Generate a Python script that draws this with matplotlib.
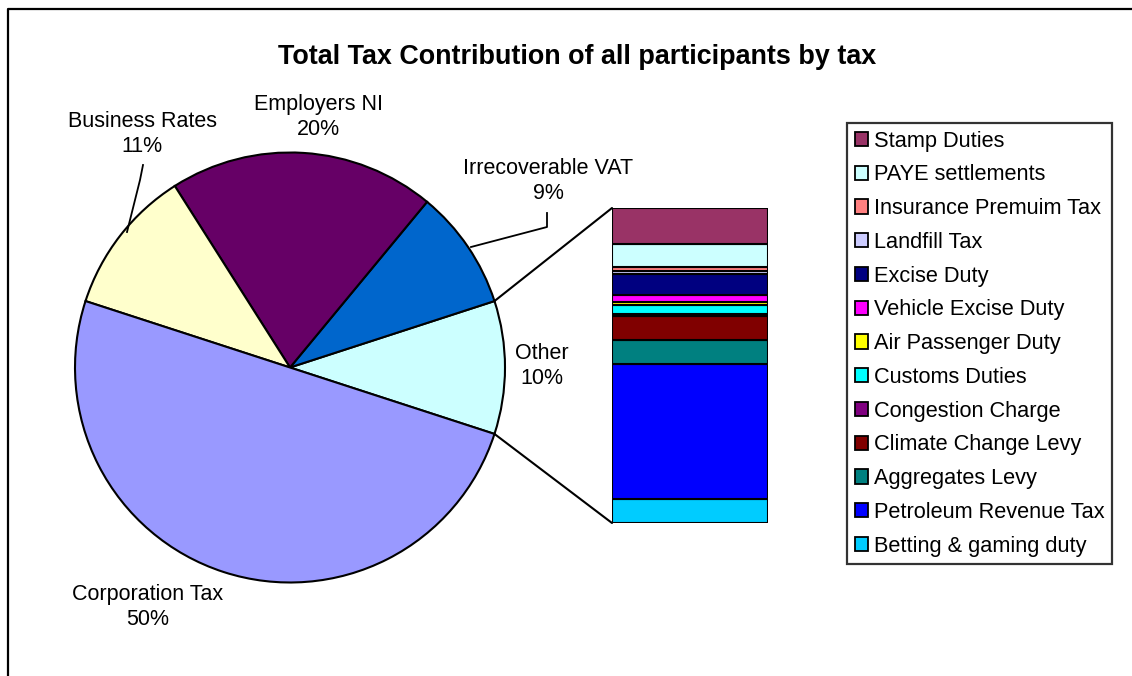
import numpy as np
import matplotlib
matplotlib.use('Agg')
import matplotlib.pyplot as plt
from matplotlib.patches import Patch, ConnectionPatch

plt.rcParams['font.family'] = ['Liberation Sans', 'DejaVu Sans']

# pie slices, counter-clockwise from the "Other" slice (% of total)
pie_labels = ['Other', 'Irrecoverable VAT', 'Employers NI', 'Business Rates', 'Corporation Tax']
pie_values = [10, 9, 20, 11, 50]
pie_colors = ['#CCFFFF', '#0066CC', '#660066', '#FFFFCC', '#9999FF']

# breakdown of "Other", bottom to top of the stacked bar (% of total)
other_labels = ['Betting & gaming duty', 'Petroleum Revenue Tax', 'Aggregates Levy',
                'Climate Change Levy', 'Congestion Charge', 'Customs Duties',
                'Air Passenger Duty', 'Vehicle Excise Duty', 'Excise Duty',
                'Landfill Tax', 'Insurance Premuim Tax', 'PAYE settlements', 'Stamp Duties']
other_values = [0.76, 4.30, 0.76, 0.76, 0.05, 0.29, 0.10, 0.21, 0.66, 0.10, 0.13, 0.75, 1.13]
other_colors = ['#00CCFF', '#0000FF', '#008080', '#800000', '#800080', '#00FFFF',
                '#FFFF00', '#FF00FF', '#000080', '#CCCCFF', '#FF8080', '#CCFFFF', '#993366']

W, H = 1132, 676
fig = plt.figure(figsize=(W / 100, H / 100), dpi=100)
ax = fig.add_axes([0, 0, 1, 1])


def py(y):
    # screen y (from top) to data y
    return H - y


# outer chart frame (top and left edges visible)
ax.plot([8, 8, W + 5], [py(H + 5), py(9), py(9)], color='black', lw=1.6, solid_capstyle='projecting')

cx, cy, R = 290, py(367.5), 215
wedges, _ = ax.pie(pie_values, colors=pie_colors, startangle=-18, counterclock=True,
                   center=(cx, cy), radius=R, frame=True,
                   wedgeprops=dict(edgecolor='black', linewidth=1.5))
ax.set_xlim(0, W)
ax.set_ylim(0, H)
ax.set_aspect('equal')
ax.axis('off')

ax.text(577, py(57), 'Total Tax Contribution of all participants by tax',
        ha='center', va='center', fontsize=19.4, fontweight='bold')

lab_fs = 15.5
label_pos = {
    'Employers NI': (318, 117),
    'Business Rates': (142, 134),
    'Irrecoverable VAT': (548, 181),
    'Other': (542, 366),
    'Corporation Tax': (148, 607),
}
for name, val in zip(pie_labels, pie_values):
    x, y = label_pos[name]
    ax.text(x, py(y), f'{name}\n{val}%', ha='center', va='center',
            fontsize=lab_fs, linespacing=1.2)

# leader lines for the labels sitting away from their slices
ax.plot([471, 547, 547], [py(247), py(227), py(213)], color='black', lw=1.3)
ax.plot([127, 140, 143], [py(232), py(180), py(165)], color='black', lw=1.3)

# stacked bar for the "Other" slice
bx0, by0, bw, bh = 612, 523, 156, 315
bax = fig.add_axes([bx0 / W, (H - by0) / H, bw / W, bh / H])
bottom = 0
for v, c in zip(other_values, other_colors):
    bax.bar(0.5, v, width=1.0, bottom=bottom, color=c, edgecolor='black', linewidth=1.5)
    bottom += v
bax.set_xlim(0, 1)
bax.set_ylim(0, sum(other_values))
bax.axis('off')

# connectors from the "Other" slice edges to the bar corners
w_other = wedges[0]
for theta, ybar in [(w_other.theta2, sum(other_values)), (w_other.theta1, 0)]:
    px = cx + R * np.cos(np.radians(theta))
    pyy = cy + R * np.sin(np.radians(theta))
    con = ConnectionPatch(xyA=(px, pyy), coordsA=ax.transData,
                          xyB=(0, ybar), coordsB=bax.transData,
                          color='black', lw=1.5)
    fig.add_artist(con)

handles = [Patch(facecolor=c, edgecolor='black', linewidth=1.3, label=l)
           for l, c in zip(other_labels, other_colors)][::-1]
leg = fig.legend(handles=handles, loc='upper left',
                 bbox_to_anchor=(847 / W, 1 - 123 / H), fontsize=15.7,
                 frameon=True, fancybox=False, edgecolor='black',
                 handlelength=0.62, handleheight=0.62, handletextpad=0.25,
                 labelspacing=0.585, borderpad=0.35, borderaxespad=0)
leg.get_frame().set_linewidth(1.6)

fig.savefig('out.png', dpi=100)
